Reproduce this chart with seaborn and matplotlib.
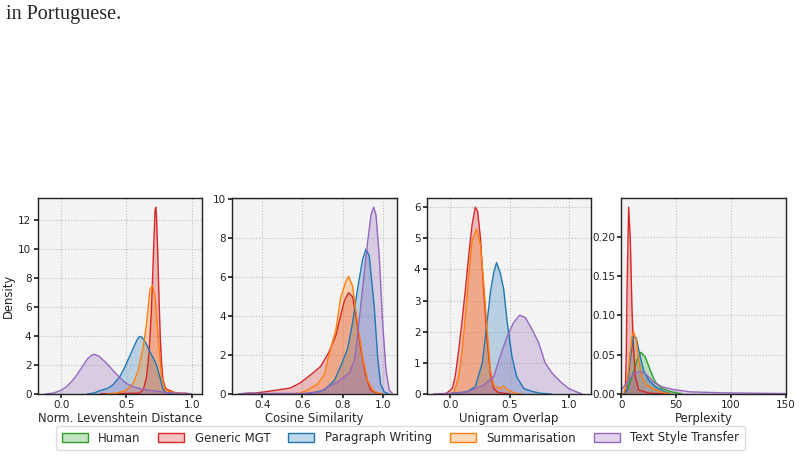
import numpy as np
import pandas as pd
import matplotlib as mpl
mpl.use("Agg")
import matplotlib.pyplot as plt
from matplotlib.patches import Patch
from matplotlib.colors import to_rgba
import seaborn as sns

series = ["Human", "Generic MGT", "Paragraph Writing", "Summarisation", "Text Style Transfer"]
colors = ["#2ca02c", "#d62728", "#1f77b4", "#ff7f0e", "#9467bd"]

# density curves: (x, density) per series

# Norm. Levenshtein Distance
lev_gen_x = [0.30, 0.60, 0.63, 0.655, 0.675, 0.69, 0.70, 0.71, 0.72, 0.725, 0.73, 0.74, 0.75, 0.76, 0.77, 0.78, 0.795, 0.81, 0.83, 0.86, 0.90, 0.95, 1.00]
lev_gen_y = [0.0, 0.05, 0.3, 1.2, 3.0, 5.5, 7.8, 10.5, 12.7, 12.9, 12.4, 9.8, 6.5, 3.8, 2.0, 1.0, 0.5, 0.3, 0.25, 0.12, 0.05, 0.05, 0.0]
lev_par_x = [0.20, 0.25, 0.29, 0.32, 0.36, 0.40, 0.45, 0.48, 0.515, 0.55, 0.58, 0.60, 0.62, 0.65, 0.68, 0.71, 0.73, 0.755, 0.78, 0.80, 0.85]
lev_par_y = [0.0, 0.05, 0.2, 0.28, 0.4, 0.65, 1.2, 1.7, 2.4, 3.1, 3.7, 3.97, 3.9, 3.5, 2.9, 2.4, 2.0, 1.2, 0.35, 0.1, 0.0]
lev_sum_x = [0.35, 0.43, 0.50, 0.55, 0.59, 0.63, 0.655, 0.68, 0.70, 0.72, 0.745, 0.77, 0.795, 0.83, 0.90, 0.95]
lev_sum_y = [0.0, 0.05, 0.25, 0.7, 1.6, 3.3, 4.9, 7.2, 7.5, 6.7, 3.7, 1.2, 0.3, 0.15, 0.03, 0.0]
lev_tst_x = [-0.12, -0.06, 0.0, 0.04, 0.08, 0.12, 0.16, 0.20, 0.23, 0.255, 0.29, 0.35, 0.39, 0.43, 0.47, 0.50, 0.55, 0.60, 0.66, 0.73, 0.80, 0.90, 1.00]
lev_tst_y = [0.0, 0.05, 0.25, 0.49, 0.85, 1.3, 1.85, 2.4, 2.65, 2.73, 2.6, 2.1, 1.7, 1.3, 0.95, 0.72, 0.5, 0.37, 0.26, 0.19, 0.1, 0.04, 0.0]

# Cosine Similarity
cos_gen_x = [0.30, 0.35, 0.41, 0.475, 0.54, 0.59, 0.64, 0.69, 0.73, 0.767, 0.79, 0.81, 0.83, 0.85, 0.867, 0.89, 0.917, 0.94, 0.975, 1.00]
cos_gen_y = [0.0, 0.03, 0.1, 0.2, 0.3, 0.57, 0.97, 1.4, 2.1, 3.0, 4.0, 4.8, 5.2, 5.0, 4.0, 2.4, 0.9, 0.2, 0.02, 0.0]
cos_par_x = [0.60, 0.64, 0.71, 0.76, 0.79, 0.825, 0.85, 0.875, 0.90, 0.917, 0.933, 0.958, 0.975, 0.99, 1.008, 1.03]
cos_par_y = [0.0, 0.03, 0.2, 0.7, 1.4, 2.3, 3.65, 5.4, 6.9, 7.45, 7.1, 4.5, 1.9, 0.5, 0.1, 0.0]
cos_sum_x = [0.55, 0.59, 0.625, 0.675, 0.71, 0.74, 0.767, 0.79, 0.817, 0.83, 0.85, 0.875, 0.90, 0.925, 0.95, 0.975, 1.00]
cos_sum_y = [0.0, 0.05, 0.2, 0.5, 1.0, 2.3, 3.3, 4.9, 5.8, 6.05, 5.55, 3.65, 1.9, 0.7, 0.2, 0.05, 0.0]
cos_tst_x = [0.28, 0.33, 0.40, 0.60, 0.69, 0.725, 0.775, 0.81, 0.833, 0.86, 0.875, 0.90, 0.925, 0.942, 0.955, 0.967, 0.983, 1.00, 1.017, 1.033, 1.05]
cos_tst_y = [0.0, 0.05, 0.02, 0.02, 0.1, 0.36, 0.6, 0.9, 1.05, 1.75, 3.0, 5.4, 7.8, 9.2, 9.6, 9.2, 7.1, 3.65, 1.2, 0.2, 0.0]

# Unigram Overlap
uni_gen_x = [-0.05, -0.03, 0.015, 0.04, 0.07, 0.10, 0.127, 0.155, 0.183, 0.21, 0.23, 0.254, 0.28, 0.31, 0.338, 0.366, 0.40, 0.45, 0.50]
uni_gen_y = [0.0, 0.03, 0.17, 0.55, 1.4, 2.4, 3.37, 4.46, 5.43, 6.0, 5.87, 5.0, 3.37, 1.75, 0.66, 0.17, 0.05, 0.02, 0.0]
uni_par_x = [0.0, 0.14, 0.21, 0.27, 0.31, 0.338, 0.366, 0.39, 0.42, 0.45, 0.48, 0.52, 0.56, 0.62, 0.70, 0.76, 0.85]
uni_par_y = [0.0, 0.07, 0.23, 1.0, 2.3, 3.27, 3.9, 4.22, 3.9, 3.37, 2.3, 1.2, 0.55, 0.17, 0.07, 0.02, 0.0]
uni_sum_x = [0.0, 0.03, 0.07, 0.10, 0.127, 0.155, 0.183, 0.22, 0.254, 0.28, 0.31, 0.338, 0.366, 0.41, 0.45, 0.485, 0.55, 0.60]
uni_sum_y = [0.0, 0.05, 0.55, 1.4, 2.5, 3.8, 4.9, 5.3, 4.8, 3.6, 2.07, 0.77, 0.28, 0.17, 0.25, 0.12, 0.02, 0.0]
uni_tst_x = [-0.14, 0.0, 0.14, 0.28, 0.366, 0.42, 0.48, 0.535, 0.586, 0.634, 0.69, 0.746, 0.80, 0.86, 0.93, 1.00, 1.07, 1.11]
uni_tst_y = [0.0, 0.02, 0.06, 0.28, 0.55, 1.2, 1.85, 2.3, 2.53, 2.45, 2.07, 1.64, 1.0, 0.66, 0.39, 0.17, 0.06, 0.0]

# Perplexity
ppl_hum_x = [2, 5.2, 9.7, 14.3, 17.9, 21.9, 26.4, 31, 37, 44.6, 55]
ppl_hum_y = [0.0, 0.004, 0.022, 0.043, 0.053, 0.047, 0.03, 0.015, 0.007, 0.003, 0.0]
ppl_gen_x = [3.6, 4.5, 5.2, 6.7, 8.2, 9.7, 11.2, 12.8, 15.8, 25, 40]
ppl_gen_y = [0.0, 0.05, 0.133, 0.238, 0.197, 0.11, 0.056, 0.022, 0.005, 0.001, 0.0]
ppl_par_x = [3, 5.2, 8.2, 11.2, 13.7, 17.3, 20.3, 24.9, 31, 38.6, 45]
ppl_par_y = [0.0, 0.005, 0.043, 0.073, 0.071, 0.047, 0.03, 0.0175, 0.009, 0.003, 0.0]
ppl_sum_x = [2.1, 5.2, 7.6, 9.7, 11.2, 13.7, 15.8, 18.8, 21.9, 26.4, 31, 35.5, 40, 45]
ppl_sum_y = [0.0, 0.013, 0.047, 0.073, 0.079, 0.069, 0.043, 0.022, 0.013, 0.009, 0.0055, 0.003, 0.001, 0.0]
ppl_tst_x = [-5, 0, 5.2, 11.2, 17.3, 23.4, 29.4, 37, 47.7, 62.8, 93, 150]
ppl_tst_y = [0.0, 0.005, 0.015, 0.026, 0.029, 0.024, 0.015, 0.009, 0.0055, 0.0026, 0.0013, 0.0004]


def panel_df(curves):
    parts = []
    for name, (xs, ys) in curves.items():
        parts.append(pd.DataFrame({"x": xs, "density": ys, "series": name}))
    return pd.concat(parts, ignore_index=True)


panels = [
    ("Norm. Levenshtein Distance", (-0.18, 1.08), {
        "Generic MGT": (lev_gen_x, lev_gen_y),
        "Paragraph Writing": (lev_par_x, lev_par_y),
        "Summarisation": (lev_sum_x, lev_sum_y),
        "Text Style Transfer": (lev_tst_x, lev_tst_y)}),
    ("Cosine Similarity", (0.25, 1.07), {
        "Generic MGT": (cos_gen_x, cos_gen_y),
        "Paragraph Writing": (cos_par_x, cos_par_y),
        "Summarisation": (cos_sum_x, cos_sum_y),
        "Text Style Transfer": (cos_tst_x, cos_tst_y)}),
    ("Unigram Overlap", (-0.2, 1.19), {
        "Generic MGT": (uni_gen_x, uni_gen_y),
        "Paragraph Writing": (uni_par_x, uni_par_y),
        "Summarisation": (uni_sum_x, uni_sum_y),
        "Text Style Transfer": (uni_tst_x, uni_tst_y)}),
    ("Perplexity", (0, 150), {
        "Human": (ppl_hum_x, ppl_hum_y),
        "Generic MGT": (ppl_gen_x, ppl_gen_y),
        "Paragraph Writing": (ppl_par_x, ppl_par_y),
        "Summarisation": (ppl_sum_x, ppl_sum_y),
        "Text Style Transfer": (ppl_tst_x, ppl_tst_y)}),
]

sns.set_theme(style="whitegrid", rc={
    "axes.facecolor": "#f3f3f3",
    "axes.edgecolor": "#222222",
    "axes.linewidth": 1.0,
    "grid.color": "#bdbdbd",
    "grid.linestyle": ":",
    "grid.linewidth": 0.8,
    "xtick.bottom": True,
    "ytick.left": True,
    "xtick.major.size": 3,
    "ytick.major.size": 3,
    "xtick.color": "#222222",
    "ytick.color": "#222222",
})
plt.rcParams["font.family"] = ["DejaVu Sans"]

palette = dict(zip(series, colors))

fig, axes = plt.subplots(1, 4, figsize=(8.01, 4.58), dpi=100)
fig.subplots_adjust(left=0.047, right=0.981, bottom=0.140, top=0.568, wspace=0.183)

for ax, (label, xlim, curves) in zip(axes, panels):
    df = panel_df(curves)
    sns.lineplot(data=df, x="x", y="density", hue="series", palette=palette,
                 hue_order=[s for s in series if s in curves], ax=ax,
                 legend=False, linewidth=1.0, sort=False, estimator=None)
    for name in series:
        if name in curves:
            xs, ys = curves[name]
            ax.fill_between(xs, ys, 0, color=palette[name], alpha=0.28, linewidth=0)
    ax.set_xlim(*xlim)
    ax.set_ylim(0, df["density"].max() * 1.05)
    ax.set_xlabel(label, fontsize=8.4, labelpad=1)
    ax.set_ylabel("")
    ax.tick_params(labelsize=7.5, pad=1.5, length=3)
    for sp in ax.spines.values():
        sp.set_color("#222222")

axes[0].set_ylabel("Density", fontsize=8.4, labelpad=2)
axes[1].set_xticks([0.4, 0.6, 0.8, 1.0])
axes[3].set_xticks([0, 50, 100, 150])

handles = [Patch(facecolor=to_rgba(c, 0.28), edgecolor=c, linewidth=1) for c in colors]
fig.legend(handles, series, loc="center", bbox_to_anchor=(0.5, 1 - 438 / 458), ncol=5,
           fontsize=8.5, frameon=True, fancybox=True, edgecolor="#dddddd", facecolor="white",
           framealpha=1.0, handlelength=2.2, columnspacing=1.5, handletextpad=0.9, borderpad=0.5)

fig.text(6 / 801, 1 - 19 / 458, "in Portuguese.", fontsize=14.5,
         family=["Liberation Serif", "DejaVu Serif"], va="baseline", ha="left")

fig.savefig("out.png", dpi=100, facecolor="white")
